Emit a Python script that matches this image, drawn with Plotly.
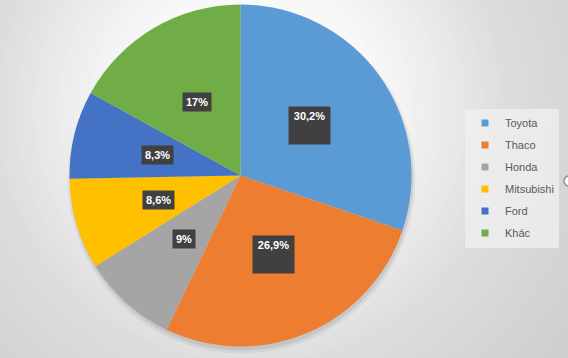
import math
import plotly.graph_objects as go

# ---- data ----
brands = ["Toyota", "Thaco", "Honda", "Mitsubishi", "Ford", "Khác"]
shares = [30.2, 26.9, 9.0, 8.6, 8.3, 17.0]
colors = ["#5B9BD5", "#ED7D31", "#A5A5A5", "#FFC000", "#4472C4", "#70AD47"]

# ---- styling / geometry constants ----
W, H = 568, 358
PIE_CX, PIE_CY, PIE_R = 240.5, 175.5, 171      # px, screen coords
LABEL_RFRAC = 0.5
TALL_LABEL = [True, True, False, False, False, False]

def fmt(v):
    return f"{v:g}".replace(".", ",") + "%"

def gray(d):
    stops = [(0, 252), (130, 248), (200, 234), (260, 221), (420, 204)]
    for (d0, g0), (d1, g1) in zip(stops, stops[1:]):
        if d <= d1:
            t = (d - d0) / (d1 - d0)
            return int(round(g0 + t * (g1 - g0)))
    return stops[-1][1]

def circle(cx, cy, r, fill):
    return dict(type="circle", xref="paper", yref="paper", layer="below",
                x0=(cx - r) / W, x1=(cx + r) / W,
                y0=1 - (cy + r) / H, y1=1 - (cy - r) / H,
                fillcolor=fill, line=dict(width=0))

shapes = []
# radial background gradient
GX, GY = 250, 110
r = 420
while r > 0:
    g = gray(r)
    shapes.append(circle(GX, GY, r, f"rgb({g},{g},{g})"))
    r -= 6
# soft pie shadow
shapes.append(circle(PIE_CX + 1, PIE_CY + 4, PIE_R + 3, "rgba(0,0,0,0.05)"))
shapes.append(circle(PIE_CX + 1, PIE_CY + 3, PIE_R + 1, "rgba(0,0,0,0.08)"))
# selection handle at right edge
hs = circle(W + 1, 181, 5, "white")
hs["line"] = dict(width=1.5, color="#8c8c8c")
shapes.append(hs)

fig = go.Figure()
fig.add_trace(go.Pie(
    labels=brands, values=shares, sort=False, direction="clockwise", rotation=0,
    marker=dict(colors=colors, line=dict(width=0)),
    textinfo="none", hoverinfo="skip", showlegend=False,
    domain=dict(x=[(PIE_CX - PIE_R) / W, (PIE_CX + PIE_R) / W],
                y=[1 - (PIE_CY + PIE_R) / H, 1 - (PIE_CY - PIE_R) / H]),
))

# legend entries (one per category, grouped for spacing)
for name, col in zip(brands, colors):
    fig.add_trace(go.Scatter(
        x=[None], y=[None], mode="markers", name=name, legendgroup=name,
        marker=dict(symbol="square", size=7, color=col), hoverinfo="skip",
    ))

# data labels at slice mid-angles
annotations = []
total = sum(shares)
cum = 0.0
for v, tall in zip(shares, TALL_LABEL):
    theta = 2 * math.pi * (cum + v / 2) / total
    cum += v
    px = PIE_CX + LABEL_RFRAC * PIE_R * math.sin(theta)
    py = PIE_CY - LABEL_RFRAC * PIE_R * math.cos(theta)
    a = dict(x=px / W, y=1 - py / H, xref="paper", yref="paper",
             text=f"<b>{fmt(v)}</b>", showarrow=False,
             font=dict(family="Liberation Sans, Arial", size=11, color="white"),
             bgcolor="#404040", borderpad=3, xanchor="center", yanchor="middle")
    if tall:
        a.update(width=35, height=31, valign="top")
    annotations.append(a)

fig.update_layout(
    width=W, height=H,
    margin=dict(l=0, r=0, t=0, b=0),
    paper_bgcolor=f"rgb({gray(420)},{gray(420)},{gray(420)})",
    plot_bgcolor="rgba(0,0,0,0)",
    xaxis=dict(visible=False), yaxis=dict(visible=False),
    shapes=shapes, annotations=annotations,
    showlegend=True,
    legend=dict(x=465 / W, y=1 - 178 / H, xanchor="left", yanchor="middle",
                bgcolor="rgba(240,240,240,0.75)", borderwidth=0,
                traceorder="grouped", tracegroupgap=3,
                font=dict(family="Liberation Sans, Arial", size=11, color="#595959")),
)

fig.write_html(
    "out.html",
    config={"displayModeBar": False},
    post_script="document.body.style.margin='0';document.body.style.padding='0';"
                "document.body.style.overflow='hidden';",
)
